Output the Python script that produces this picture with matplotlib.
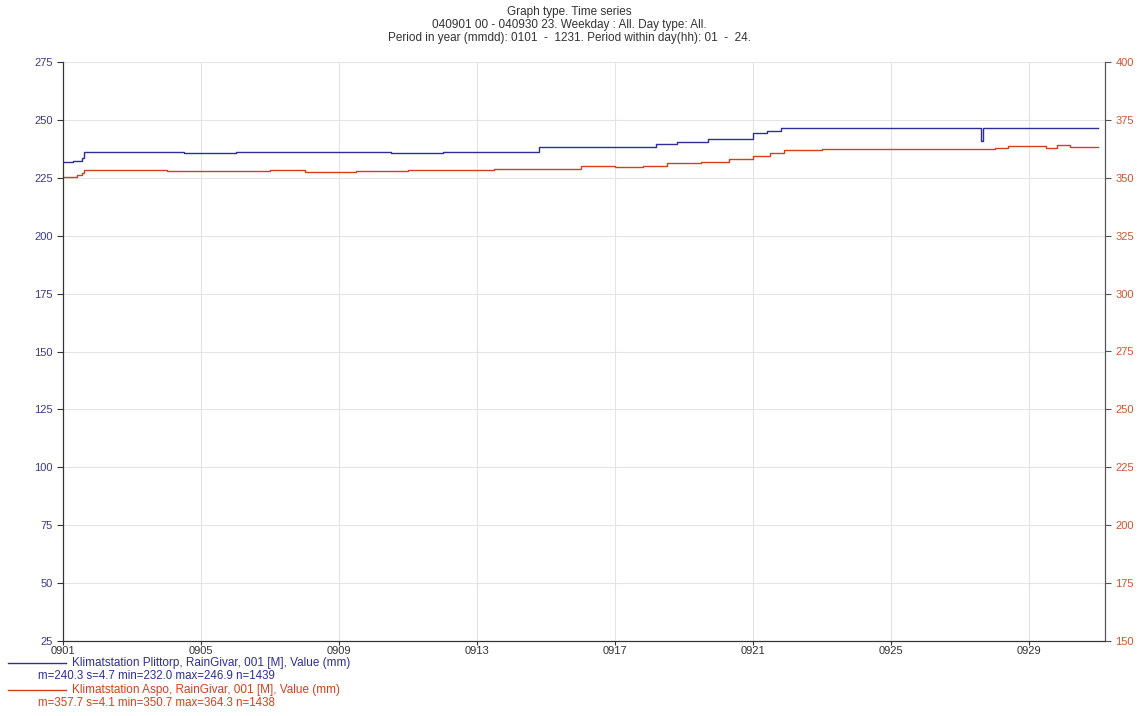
import matplotlib
matplotlib.use('Agg')
import matplotlib.pyplot as plt
import numpy as np

plt.rcParams['font.family'] = ['Liberation Sans', 'DejaVu Sans']

# breakpoints: days since 0901 00, value (mm)
blue_days = [0.0, 0.3, 0.55, 0.6, 2.0, 3.5, 5.0, 6.5, 8.0, 9.5, 11.0, 12.5, 13.8, 15.0, 16.5, 17.2,
             17.8, 18.7, 19.3, 20.0, 20.4, 20.8, 22.0, 24.0, 26.6, 26.65, 28.0, 30.0]
blue_vals = [232.0, 232.2, 233.5, 236.0, 236.1, 235.9, 236.2, 236.0, 236.1, 235.9, 236.2, 236.3, 238.3, 238.2, 238.3, 239.8,
             240.3, 241.7, 241.8, 244.5, 245.3, 246.5, 246.6, 246.5, 241.0, 246.5, 246.7, 246.6]

red_days = [0.0, 0.4, 0.55, 0.6, 2.0, 3.0, 4.5, 6.0, 7.0, 8.5, 10.0, 11.5, 12.5, 13.5, 15.0, 16.0,
            16.8, 17.5, 18.5, 19.3, 20.0, 20.5, 20.9, 22.0, 24.0, 25.5, 27.0, 27.4, 28.5, 28.8, 29.2, 30.0]
red_vals = [350.5, 351.0, 352.0, 353.3, 353.4, 353.0, 352.8, 353.3, 352.6, 353.0, 353.4, 353.2, 354.0, 353.8, 355.0, 354.6,
            355.2, 356.3, 357.0, 358.2, 359.3, 360.8, 362.0, 362.4, 362.6, 362.3, 362.8, 363.6, 362.7, 364.0, 363.2, 363.3]

xtick_days = [0, 4, 8, 12, 16, 20, 24, 28]
xtick_labels = ['0901', '0905', '0909', '0913', '0917', '0921', '0925', '0929']

title_lines = ['Graph type. Time series',
               '040901 00 - 040930 23. Weekday : All. Day type: All.',
               'Period in year (mmdd): 0101  -  1231. Period within day(hh): 01  -  24.']
leg_names = ['Klimatstation Plittorp, RainGivar, 001 [M], Value (mm)',
             'Klimatstation Aspo, RainGivar, 001 [M], Value (mm)']
leg_stats = ['m=240.3 s=4.7 min=232.0 max=246.9 n=1439',
             'm=357.7 s=4.1 min=350.7 max=364.3 n=1438']

blue = '#2e2e9a'
red = '#d2401e'

fig = plt.figure(figsize=(11.38, 7.16), dpi=100)
ax = fig.add_axes([63/1138, 1 - 641/716, (1105-63)/1138, (641-62)/716])
ax2 = ax.twinx()

ax.step(blue_days, blue_vals, where='post', color=blue, lw=1.0)
ax2.step(red_days, red_vals, where='post', color=red, lw=1.0)

ax.set_xlim(0, 30.2)
ax.set_ylim(25, 275)
ax2.set_ylim(150, 400)
ax.set_yticks(np.arange(25, 276, 25))
ax2.set_yticks(np.arange(150, 401, 25))
ax.set_xticks(xtick_days)
ax.set_xticklabels(xtick_labels)

ax.grid(True, color='#e4e4e4', lw=0.8)
ax.set_axisbelow(True)

for a in (ax, ax2):
    a.spines['top'].set_visible(False)
    a.spines['left'].set_color('#333333')
    a.spines['right'].set_color('#555555')
    a.spines['bottom'].set_color('#333333')

ax.tick_params(axis='y', colors='#333333', labelcolor='#3a3a8a', labelsize=8, length=4, width=0.8)
ax.tick_params(axis='x', colors='#333333', labelcolor='#333333', labelsize=8, length=3, width=0.8, pad=0.5)
ax2.tick_params(axis='y', colors='#555555', labelcolor='#d0532e', labelsize=8, length=4, width=0.8)

for i, line in enumerate(title_lines):
    fig.text(0.5, 1 - (12 + i * 13)/716, line, ha='center', va='center', fontsize=8.5, color='#333333')

for i, (name, stat, c) in enumerate(zip(leg_names, leg_stats, [blue, red])):
    y0 = 663 + i * 27
    fig.add_artist(plt.Line2D([8/1138, 66/1138], [1 - y0/716] * 2, color=c, lw=1.0))
    fig.text(72/1138, 1 - y0/716, name, ha='left', va='center', fontsize=8.5, color=c)
    fig.text(38/1138, 1 - (y0 + 13)/716, stat, ha='left', va='center', fontsize=8.3, color=c)

fig.savefig('out.png', dpi=100)
